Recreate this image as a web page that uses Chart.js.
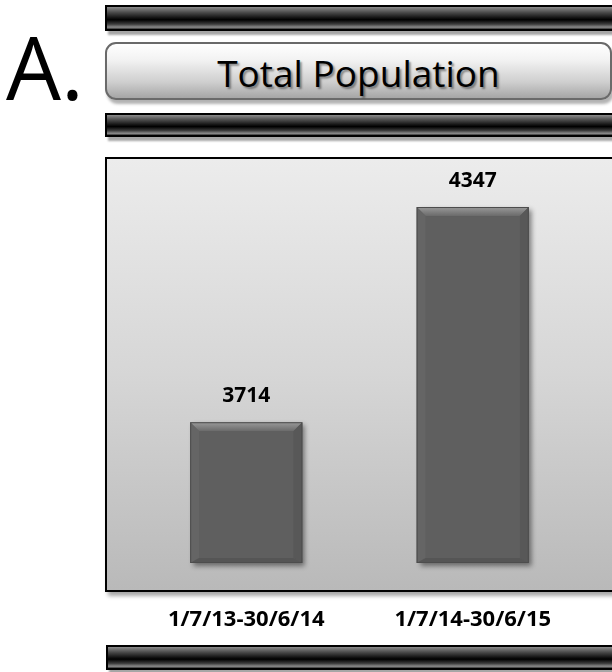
<!DOCTYPE html>
<html>
<head>
<meta charset="utf-8">
<script src="https://cdn.jsdelivr.net/npm/chart.js"></script>
<style>
  html, body { margin: 0; padding: 0; background: #fff; }
  body { width: 612px; height: 672px; position: relative; overflow: hidden; font-family: "Open Sans", sans-serif; }
  .rule {
    position: absolute; left: 105px; width: 520px; box-sizing: border-box;
    border: 2px solid #000;
    background: linear-gradient(to bottom, #8c8c8c 0%, #4a4a4a 25%, #101010 50%, #000 58%, #3c3c3c 78%, #8a8a8a 92%, #333 100%);
    box-shadow: 3px 4px 2px rgba(0,0,0,0.35);
  }
  #letter {
    position: absolute; left: 6px; top: 23px; font-size: 87px; line-height: 1; color: #000;
  }
  #titleBox {
    position: absolute; left: 105px; top: 42px; width: 507px; height: 58px; box-sizing: border-box;
    border: 2px solid #6a6a6a; border-radius: 11px;
    background: linear-gradient(to bottom, #ffffff 0%, #f2f2f2 30%, #cfcfcf 70%, #a6a6a6 100%);
    box-shadow: 2px 4px 3px rgba(0,0,0,0.3);
    display: flex; align-items: center; justify-content: center;
    font-size: 37px; color: #000; padding-top: 3px;
    text-shadow: 2px 2px 2px rgba(0,0,0,0.4);
  }
  #plotBox {
    position: absolute; left: 105px; top: 157px; width: 520px; height: 435px; box-sizing: border-box;
    border: 2px solid #000;
    background: linear-gradient(to bottom, #ececec 0%, #d6d6d6 50%, #b9b9b9 100%);
    box-shadow: 3px 4px 4px rgba(0,0,0,0.35);
  }
  #wrap { position: absolute; left: 0; top: 0; width: 612px; height: 672px; }
</style>
</head>
<body>
<div class="rule" style="top:5px;height:26px;"></div>
<div id="letter">A.</div>
<div id="titleBox">Total Population</div>
<div class="rule" style="top:113px;height:24px;"></div>
<div id="plotBox"></div>
<div class="rule" style="top:645px;height:25px;left:106px;"></div>
<div id="wrap"><canvas id="myChart" width="612" height="672"></canvas></div>

<script>
const periods = ['1/7/13-30/6/14', '1/7/14-30/6/15'];
const population = [3714, 4347];
const axisMin = 3300;
const axisMax = 4500;

// bevel, shadow and value labels on top of the library's bars
const barDecor = {
    id: 'barDecor',
    beforeDatasetsDraw(chart) {
        const ctx = chart.ctx;
        ctx.save();
        chart.getDatasetMeta(0).data.forEach(bar => {
            const left = bar.x - bar.width / 2;
            ctx.shadowColor = 'rgba(0,0,0,0.45)';
            ctx.shadowBlur = 5;
            ctx.shadowOffsetX = 3;
            ctx.shadowOffsetY = 3;
            ctx.fillStyle = '#5f5f5f';
            ctx.fillRect(left, bar.y, bar.width, bar.base - bar.y);
        });
        ctx.restore();
    },
    afterDatasetsDraw(chart) {
        const ctx = chart.ctx;
        const b = 9;
        ctx.save();
        chart.getDatasetMeta(0).data.forEach((bar, i) => {
            const l = bar.x - bar.width / 2, r = bar.x + bar.width / 2;
            const t = bar.y, btm = bar.base;
            // top bevel
            const g = ctx.createLinearGradient(0, t, 0, t + b);
            g.addColorStop(0, '#9a9a9a');
            g.addColorStop(1, '#6a6a6a');
            ctx.fillStyle = g;
            ctx.beginPath();
            ctx.moveTo(l, t); ctx.lineTo(r, t); ctx.lineTo(r - b, t + b); ctx.lineTo(l + b, t + b);
            ctx.closePath(); ctx.fill();
            // side bevels
            ctx.fillStyle = '#656565';
            ctx.beginPath();
            ctx.moveTo(l, t); ctx.lineTo(l + b, t + b); ctx.lineTo(l + b, btm - 5); ctx.lineTo(l, btm);
            ctx.closePath(); ctx.fill();
            ctx.fillStyle = '#585858';
            ctx.beginPath();
            ctx.moveTo(r, t); ctx.lineTo(r - b, t + b); ctx.lineTo(r - b, btm - 5); ctx.lineTo(r, btm);
            ctx.closePath(); ctx.fill();
            // bottom bevel
            ctx.fillStyle = '#555555';
            ctx.beginPath();
            ctx.moveTo(l, btm); ctx.lineTo(r, btm); ctx.lineTo(r - b, btm - 5); ctx.lineTo(l + b, btm - 5);
            ctx.closePath(); ctx.fill();
            ctx.fillStyle = '#5f5f5f';
            ctx.fillRect(l + b, t + b, bar.width - 2 * b, btm - t - b - 5);
            ctx.strokeStyle = '#4d4d4d';
            ctx.lineWidth = 1;
            ctx.strokeRect(l + 0.5, t + 0.5, bar.width - 1, btm - t - 1);
            // value label
            ctx.fillStyle = '#000';
            ctx.font = 'bold 21px "Open Sans"';
            ctx.textAlign = 'center';
            ctx.textBaseline = 'alphabetic';
            ctx.fillText(String(population[i]), bar.x, t - 20);
        });
        ctx.restore();
    }
};

function initBarChart() {
    const ctx = document.getElementById('myChart').getContext('2d');
    new Chart(ctx, {
        type: 'bar',
        data: {
            labels: periods,
            datasets: [{
                label: 'Total Population',
                data: population,
                base: axisMin,
                backgroundColor: 'rgba(0,0,0,0)',
                borderWidth: 0,
                categoryPercentage: 1,
                barPercentage: 0.495
            }]
        },
        options: {
            responsive: false,
            animation: false,
            layout: { padding: { left: 133, right: 26, top: 155, bottom: 0 } },
            plugins: {
                legend: { display: false },
                tooltip: { enabled: false }
            },
            scales: {
                y: {
                    display: false,
                    min: axisMin,
                    max: axisMax
                },
                x: {
                    grid: { display: false, drawTicks: false },
                    border: { display: false },
                    afterFit: scale => { scale.height = 109; },
                    ticks: {
                        color: '#000',
                        padding: 44,
                        font: { family: 'Open Sans', size: 22, weight: 'bold' }
                    }
                }
            }
        },
        plugins: [barDecor]
    });
}

document.addEventListener('DOMContentLoaded', initBarChart);
</script>
</body>
</html>
